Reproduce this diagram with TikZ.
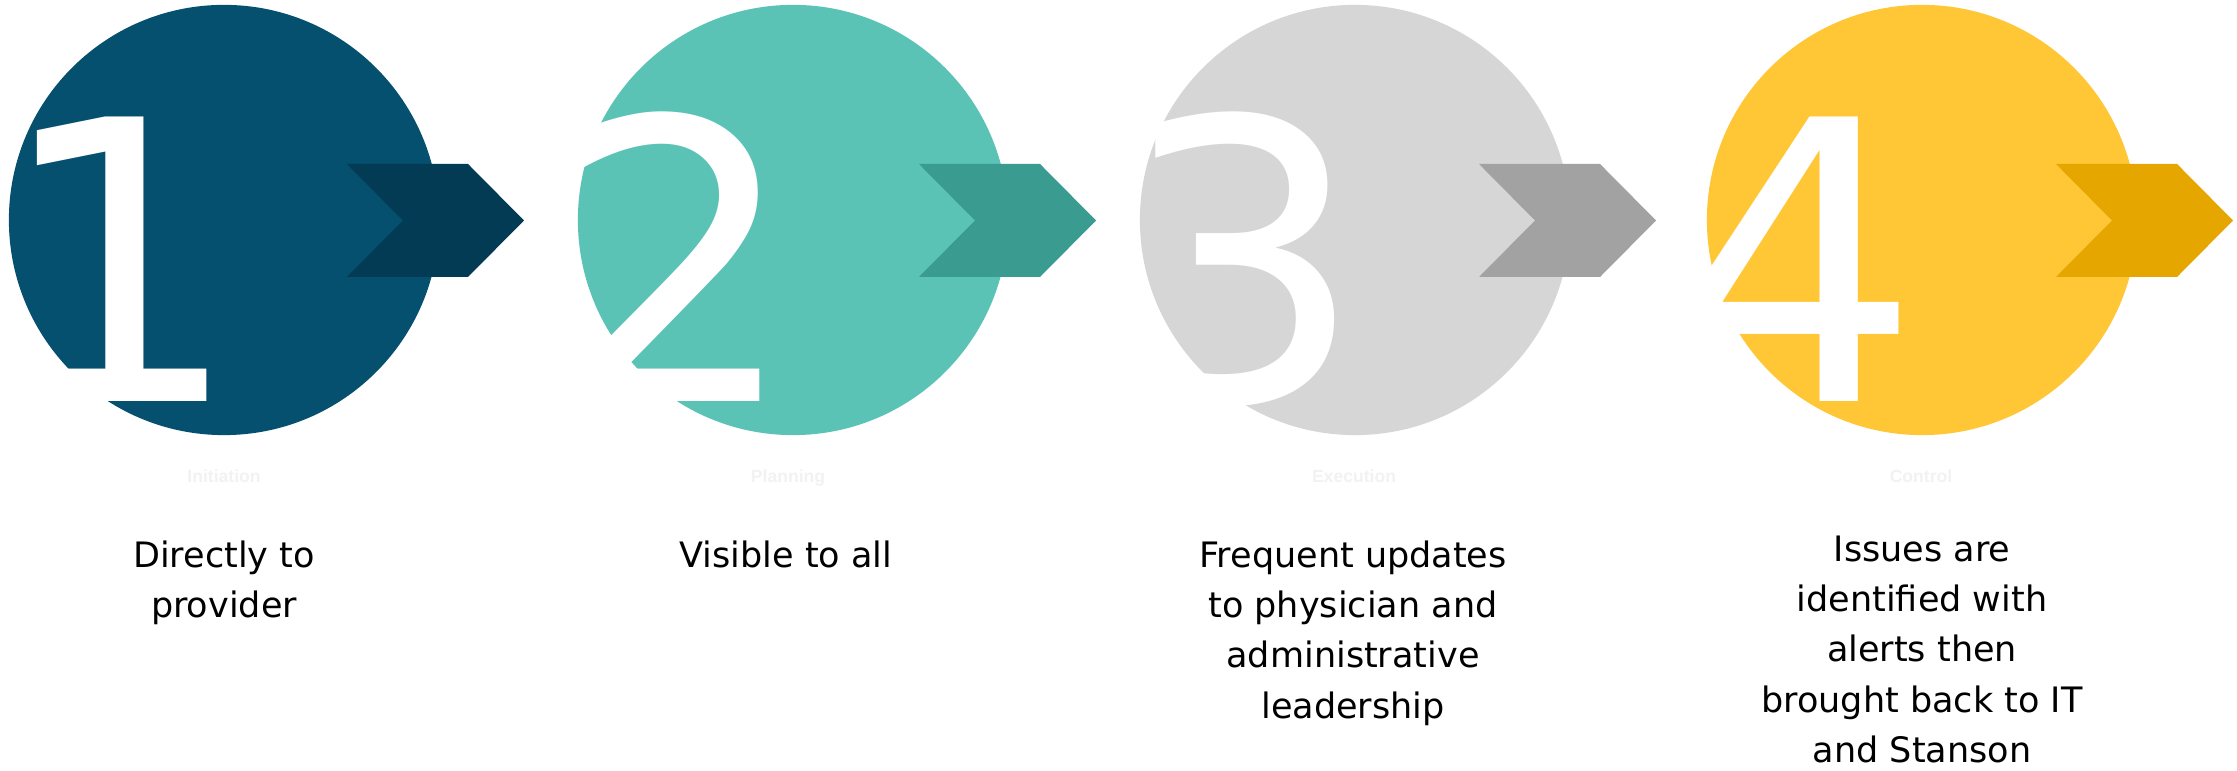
\documentclass[tikz,border=0pt]{standalone}
\usepackage{fontspec}
\setmainfont{DejaVu Sans}
\newfontfamily\phaselabelfont{Liberation Sans}
\definecolor{oneFill}{HTML}{05506E}
\definecolor{oneChev}{HTML}{033A54}
\definecolor{twoFill}{HTML}{5AC3B6}
\definecolor{twoChev}{HTML}{3A9B90}
\definecolor{threeFill}{HTML}{D6D6D6}
\definecolor{threeChev}{HTML}{A2A2A2}
\definecolor{fourFill}{HTML}{FFC636}
\definecolor{fourChev}{HTML}{E5A600}
\definecolor{faintText}{HTML}{F2F2F2}
\newcommand\chevronat[2]{\fill[#2] (#1) ++(-177,-56.5) -- ++(121,0) -- ++(56,56.5) -- ++(-56,56.5) -- ++(-121,0) -- ++(56,-56.5) -- cycle;}
\begin{document}
\begin{tikzpicture}[x=0.01cm,y=-0.01cm,
  phase/.style={circle,inner sep=0,minimum size=4.3cm},
  digit/.style={text=white,inner sep=0,anchor=base west,text depth=0pt,font=\fontsize{111}{111}\selectfont},
  phaselabel/.style={text=faintText,inner sep=0,anchor=base,font=\phaselabelfont\bfseries\fontsize{5}{6}\selectfont},
  desc/.style={align=center,inner sep=0,anchor=north,font=\fontsize{9.96}{14.31}\selectfont}]
\useasboundingbox (0,0) rectangle (2237,771);
\fill[white] (0,0) rectangle (2237,771);

\node[phase,fill=oneFill] (p1) at (224,220) {};
\node[phase,fill=twoFill] (p2) at (793,220) {};
\node[phase,fill=threeFill] (p3) at (1355,220) {};
\node[phase,fill=fourFill] (p4) at (1922,220) {};

\node[digit] (d1) at (-6,402) {1};
\node[digit] (d2) at (550,402) {2};
\node[digit] (d3) at (1117,402) {3};
\node[digit] (d4) at (1672,402) {4};

\coordinate (k1) at (524,220.5);
\coordinate (k2) at (1096,220.5);
\coordinate (k3) at (1656,220.5);
\coordinate (k4) at (2233,220.5);
\chevronat{k1}{oneChev}
\chevronat{k2}{twoChev}
\chevronat{k3}{threeChev}
\chevronat{k4}{fourChev}

\node[phaselabel] (l1) at (224,483) {Initiation};
\node[phaselabel] (l2) at (788,483) {Planning};
\node[phaselabel] (l3) at (1354,483) {Execution};
\node[phaselabel] (l4) at (1921,483) {Control};

\node[desc] (t1) at (224,540) {Directly to\\provider};
\node[desc] (t2) at (786,540) {Visible to all};
\node[desc] (t3) at (1353,540) {Frequent updates\\to physician and\\administrative\\leadership};
\node[desc] (t4) at (1922,535) {Issues are\\identified with\\alerts then\\brought back to IT\\and Stanson};
\end{tikzpicture}
\end{document}
